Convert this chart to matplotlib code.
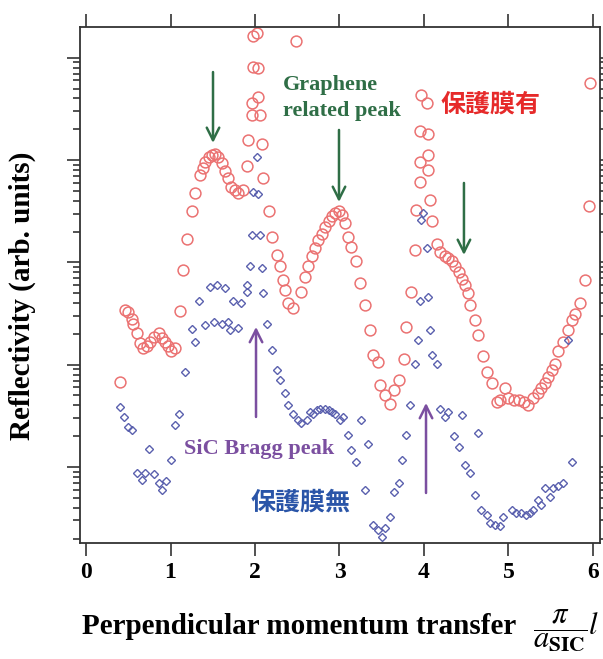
import numpy as np
import matplotlib
matplotlib.use("Agg")
import matplotlib.pyplot as plt
from matplotlib.ticker import LogLocator, NullFormatter, FixedLocator

plt.rcParams['font.family'] = ['Liberation Serif', 'DejaVu Serif']
plt.rcParams['mathtext.fontset'] = 'stix'

# data: x in units of pi/a_SiC, y as log10(reflectivity)
# 保護膜有 (with protective film), red circles
red_x = [0.40, 0.46, 0.50, 0.54, 0.56, 0.60, 0.64, 0.68, 0.72, 0.76, 0.80, 0.86,
         0.90, 0.93, 0.97, 1.01, 1.05, 1.11, 1.15, 1.19, 1.25, 1.29, 1.35, 1.39,
         1.41, 1.45, 1.49, 1.53, 1.56, 1.61, 1.64, 1.68, 1.72, 1.76, 1.80, 1.86,
         1.90, 1.92, 1.96, 1.96, 1.98, 1.98, 2.02, 2.04, 2.04, 2.06, 2.08, 2.10,
         2.16, 2.20, 2.26, 2.30, 2.33, 2.36, 2.39, 2.45, 2.49, 2.55, 2.59, 2.63,
         2.67, 2.71, 2.75, 2.79, 2.83, 2.87, 2.91, 2.95, 2.99, 3.03, 3.07, 3.10,
         3.14, 3.20, 3.24, 3.30, 3.36, 3.40, 3.46, 3.48, 3.54, 3.60, 3.64, 3.70,
         3.76, 3.79, 3.85, 3.89, 3.91, 3.95, 3.95, 3.95, 3.97, 4.03, 4.05, 4.05,
         4.05, 4.07, 4.09, 4.15, 4.19, 4.25, 4.29, 4.33, 4.37, 4.41, 4.45, 4.49,
         4.52, 4.54, 4.60, 4.64, 4.70, 4.74, 4.80, 4.86, 4.90, 4.96, 5.00, 5.06,
         5.12, 5.18, 5.23, 5.29, 5.35, 5.39, 5.43, 5.47, 5.51, 5.55, 5.59, 5.65,
         5.71, 5.75, 5.79, 5.85, 5.91, 5.95, 5.96]
red_logy = [0.83, 1.53, 1.51, 1.45, 1.40, 1.31, 1.21, 1.16, 1.18, 1.22, 1.27, 1.31,
            1.26, 1.22, 1.18, 1.13, 1.16, 1.52, 1.93, 2.23, 2.50, 2.68, 2.85, 2.92,
            2.98, 3.03, 3.05, 3.06, 3.03, 2.97, 2.89, 2.82, 2.74, 2.71, 2.68, 2.71,
            2.94, 3.20, 3.44, 3.56, 3.91, 4.21, 4.24, 3.90, 3.62, 3.44, 3.16, 2.82,
            2.50, 2.25, 2.07, 1.96, 1.83, 1.73, 1.60, 1.55, 4.16, 1.71, 1.86, 1.96,
            2.06, 2.14, 2.22, 2.28, 2.35, 2.40, 2.45, 2.48, 2.50, 2.46, 2.38, 2.25,
            2.15, 2.01, 1.80, 1.58, 1.34, 1.09, 1.03, 0.80, 0.70, 0.62, 0.75, 0.85,
            1.06, 1.37, 1.71, 2.12, 2.51, 2.79, 2.98, 3.28, 3.64, 3.56, 3.25, 3.05,
            2.90, 2.61, 2.40, 2.18, 2.10, 2.06, 2.04, 2.01, 1.96, 1.91, 1.84, 1.78,
            1.70, 1.58, 1.44, 1.29, 1.08, 0.93, 0.82, 0.64, 0.65, 0.77, 0.67, 0.65,
            0.65, 0.64, 0.61, 0.67, 0.72, 0.77, 0.82, 0.88, 0.95, 1.01, 1.13, 1.22,
            1.34, 1.44, 1.50, 1.60, 1.83, 2.55, 3.75]

# 保護膜無 (without protective film), blue diamonds
blue_x = [0.40, 0.45, 0.50, 0.54, 0.60, 0.66, 0.70, 0.75, 0.80, 0.86, 0.90, 0.95,
          1.00, 1.05, 1.10, 1.17, 1.25, 1.29, 1.34, 1.41, 1.47, 1.51, 1.55, 1.61,
          1.64, 1.68, 1.70, 1.74, 1.80, 1.84, 1.90, 1.90, 1.94, 1.96, 1.98, 2.02,
          2.04, 2.06, 2.08, 2.10, 2.14, 2.20, 2.26, 2.30, 2.36, 2.39, 2.45, 2.51,
          2.55, 2.61, 2.65, 2.69, 2.73, 2.77, 2.83, 2.87, 2.91, 2.95, 3.01, 3.04,
          3.10, 3.14, 3.20, 3.26, 3.30, 3.34, 3.40, 3.46, 3.50, 3.54, 3.60, 3.64,
          3.70, 3.74, 3.79, 3.83, 3.89, 3.93, 3.95, 3.97, 3.99, 4.03, 4.05, 4.07,
          4.09, 4.15, 4.19, 4.25, 4.29, 4.35, 4.41, 4.45, 4.49, 4.54, 4.60, 4.64,
          4.68, 4.74, 4.78, 4.84, 4.90, 4.94, 5.04, 5.09, 5.15, 5.21, 5.25, 5.29,
          5.35, 5.39, 5.43, 5.49, 5.53, 5.59, 5.65, 5.71, 5.75]
blue_logy = [0.59, 0.49, 0.39, 0.36, -0.06, -0.13, -0.06, 0.18, -0.07, -0.16, -0.22, -0.14,
             0.07, 0.41, 0.52, 0.93, 1.35, 1.22, 1.62, 1.39, 1.76, 1.42, 1.78, 1.40,
             1.75, 1.42, 1.34, 1.62, 1.36, 1.60, 1.71, 1.78, 1.96, 2.27, 2.69, 3.03,
             2.67, 2.27, 1.94, 1.70, 1.40, 1.14, 0.95, 0.85, 0.72, 0.61, 0.52, 0.46,
             0.43, 0.46, 0.54, 0.52, 0.56, 0.57, 0.57, 0.56, 0.54, 0.52, 0.46, 0.49,
             0.31, 0.17, 0.05, 0.46, -0.22, 0.22, -0.57, -0.62, -0.68, -0.60, -0.49, -0.24,
             -0.16, 0.07, 0.31, 0.61, 1.01, 1.24, 1.62, 2.41, 2.48, 2.14, 1.66, 1.34,
             1.09, 1.01, 0.57, 0.49, 0.54, 0.30, 0.20, 0.51, 0.02, -0.06, -0.27, 0.33,
             -0.42, -0.47, -0.55, -0.57, -0.58, -0.49, -0.42, -0.45, -0.45, -0.47, -0.45, -0.42,
             -0.32, -0.37, -0.21, -0.29, -0.21, -0.19, -0.16, 1.24, 0.05]

x_ticks = [0, 1, 2, 3, 4, 5, 6]

red_y = 10.0 ** np.array(red_logy)
blue_y = 10.0 ** np.array(blue_logy)

fig = plt.figure(figsize=(6.03, 6.59), dpi=100)
ax = fig.add_axes([0.1327, 0.176, 0.8623, 0.783])

ax.plot(red_x, red_y, linestyle='none', marker='o', markersize=7.8,
        markerfacecolor='none', markeredgecolor='#eb7272', markeredgewidth=1.1)
ax.plot(blue_x, blue_y, linestyle='none', marker='D', markersize=4.2,
        markerfacecolor='none', markeredgecolor='#5a60ae', markeredgewidth=1.0)

ax.set_yscale('log')
ax.set_xlim(-0.071, 6.083)
ax.set_ylim(10 ** -0.743, 10 ** 4.30)

ax.xaxis.set_major_locator(FixedLocator(x_ticks))
ax.yaxis.set_major_locator(LogLocator(base=10, numticks=20))
ax.yaxis.set_minor_locator(LogLocator(base=10, subs=np.arange(2, 10), numticks=100))
ax.yaxis.set_major_formatter(NullFormatter())
ax.yaxis.set_minor_formatter(NullFormatter())

for s in ax.spines.values():
    s.set_linewidth(1.3)
    s.set_color('#333333')
ax.tick_params(which='both', direction='out', top=True, right=True,
               labeltop=False, labelright=False, labelleft=False,
               color='#333333', width=1.2)
ax.tick_params(which='major', length=9.5, pad=4)
ax.tick_params(which='minor', length=5)
for lab in ax.get_xticklabels():
    lab.set_fontsize(17)
    lab.set_fontweight('bold')

# arrows
green = '#2f6e46'
purple = '#7b4fa0'
for xa, y0, y1 in [(1.503, 3.86, 3.167), (2.994, 3.294, 2.59), (4.473, 2.776, 2.072)]:
    ax.annotate('', xy=(xa, 10 ** y1), xytext=(xa, 10 ** y0),
                arrowprops=dict(arrowstyle='->,head_length=0.9,head_width=0.45',
                                color=green, lw=1.8, shrinkA=0, shrinkB=0))
for xa, y0, y1 in [(2.012, 0.489, 1.369), (4.024, -0.254, 0.626)]:
    ax.annotate('', xy=(xa, 10 ** y1), xytext=(xa, 10 ** y0),
                arrowprops=dict(arrowstyle='->,head_length=0.9,head_width=0.45',
                                color=purple, lw=1.8, shrinkA=0, shrinkB=0))

ax.text(2.331, 10 ** 3.607, 'Graphene\nrelated peak', color=green, fontsize=16,
        fontweight='bold', ha='left', va='center', linespacing=1.4)
ax.text(2.047, 10 ** 0.176, 'SiC Bragg peak', color=purple, fontsize=16,
        fontweight='bold', ha='center', va='center')
ax.text(4.793, 10 ** 3.539, '保護膜有', color='#e62a2a', fontsize=18,
        fontweight='bold', ha='center', va='center',
        family=['Noto Sans CJK JP', 'DejaVu Sans'])
ax.text(2.544, 10 ** -0.352, '保護膜無', color='#2a55a8', fontsize=18,
        fontweight='bold', ha='center', va='center',
        family=['Noto Sans CJK JP', 'DejaVu Sans'])

fig.text(22 / 603, 1 - 296 / 659, 'Reflectivity (arb. units)', rotation=90,
         fontsize=21, fontweight='bold', ha='center', va='center')
fig.text(82 / 603, 1 - 634 / 659, 'Perpendicular momentum transfer',
         fontsize=21, fontweight='bold', ha='left', va='baseline')
fig.text(533 / 603, 1 - 631 / 659, r'$\dfrac{\pi}{a_{\mathbf{SIC}}}$',
         fontsize=22, ha='left', va='center')
fig.text(588 / 603, 1 - 634 / 659, r'$l$', fontsize=22, ha='left', va='baseline')

fig.savefig('out.png', dpi=100)
